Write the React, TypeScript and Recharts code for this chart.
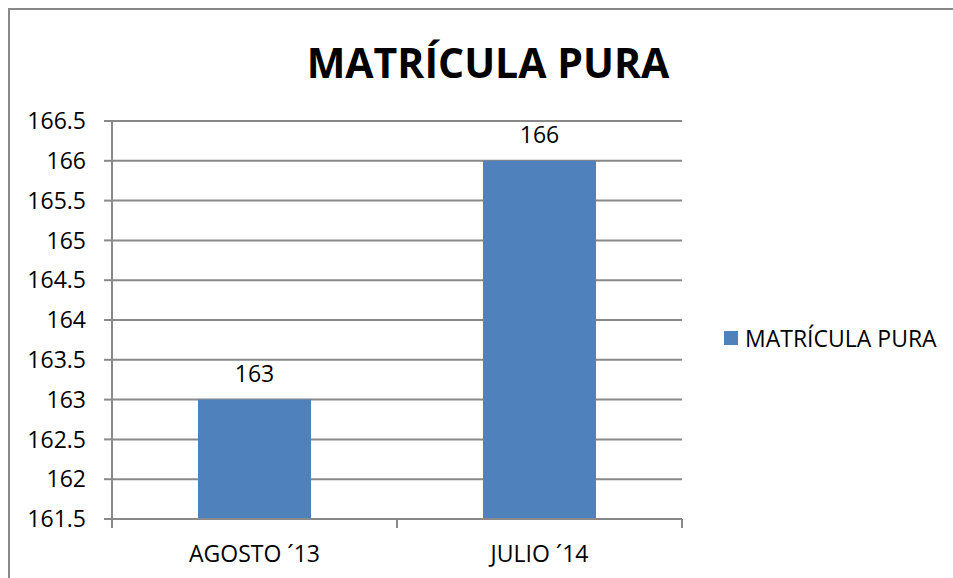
import { BarChart, Bar, XAxis, YAxis, CartesianGrid, Legend, LabelList } from "recharts"

const categories = ["AGOSTO ´13", "JULIO ´14"]
const matriculaPura = [163, 166]
const yTicks = [161.5, 162, 162.5, 163, 163.5, 164, 164.5, 165, 165.5, 166, 166.5]

const data = categories.map((name, i) => ({ name, value: matriculaPura[i] }))

const FONT = "'Open Sans', sans-serif"
const GRID = "#898989"
const BAR = "#4F81BD"
const BAND = 285

function CategoryTick(props: any) {
  const { x, y, payload, index } = props
  const last = index === categories.length - 1
  return (
    <g>
      <line x1={x - BAND / 2} y1={y - 8} x2={x - BAND / 2} y2={y + 1} stroke={GRID} strokeWidth={2} />
      {last && <line x1={x + BAND / 2} y1={y - 8} x2={x + BAND / 2} y2={y + 1} stroke={GRID} strokeWidth={2} />}
      <text x={x} y={y + 35} textAnchor="middle" fill="#000" fontSize={23} fontFamily={FONT}>
        {payload.value}
      </text>
    </g>
  )
}

function LegendContent() {
  return (
    <div style={{ display: "flex", alignItems: "center", fontFamily: FONT, fontSize: 23, color: "#000" }}>
      <span style={{ width: 14, height: 14, background: BAR, display: "inline-block", marginRight: 7 }} />
      <span>MATRÍCULA PURA</span>
    </div>
  )
}

export default function App() {
  return (
    <div style={{ position: "absolute", left: 0, top: 0, width: 953, height: 578, background: "#fff", overflow: "hidden" }}>
      <div
        style={{
          position: "absolute",
          left: 8,
          top: 8,
          width: 960,
          height: 600,
          borderLeft: `2px solid ${GRID}`,
          borderTop: `2px solid ${GRID}`,
        }}
      />
      <div
        style={{
          position: "absolute",
          left: 0,
          top: 34,
          width: 976,
          textAlign: "center",
          fontFamily: FONT,
          fontWeight: 700,
          fontSize: 41,
          lineHeight: "56px",
          color: "#000",
        }}
      >
        MATRÍCULA PURA
      </div>
      <BarChart
        width={953}
        height={578}
        data={data}
        margin={{ top: 121, right: 42, bottom: 0, left: 0 }}
        style={{ position: "absolute", left: 0, top: 0 }}
      >
        <CartesianGrid vertical={false} stroke={GRID} strokeWidth={2} />
        <XAxis
          dataKey="name"
          height={59}
          axisLine={{ stroke: GRID, strokeWidth: 2 }}
          tickLine={false}
          tick={<CategoryTick />}
          interval={0}
        />
        <YAxis
          width={112}
          domain={[161.5, 166.5]}
          ticks={yTicks}
          axisLine={{ stroke: GRID, strokeWidth: 2 }}
          tickLine={{ stroke: GRID, strokeWidth: 2 }}
          tickSize={8}
          tickMargin={18}
          tick={{ fill: "#000", fontSize: 23, fontFamily: FONT }}
          interval={0}
        />
        <Legend
          layout="vertical"
          align="right"
          verticalAlign="middle"
          content={<LegendContent />}
          wrapperStyle={{ left: 724, top: 322, width: 229 }}
        />
        <Bar dataKey="value" name="MATRÍCULA PURA" fill={BAR} barSize={113} isAnimationActive={false}>
          <LabelList dataKey="value" position="top" offset={18} fill="#000" fontSize={23} fontFamily={FONT} />
        </Bar>
      </BarChart>
    </div>
  )
}
